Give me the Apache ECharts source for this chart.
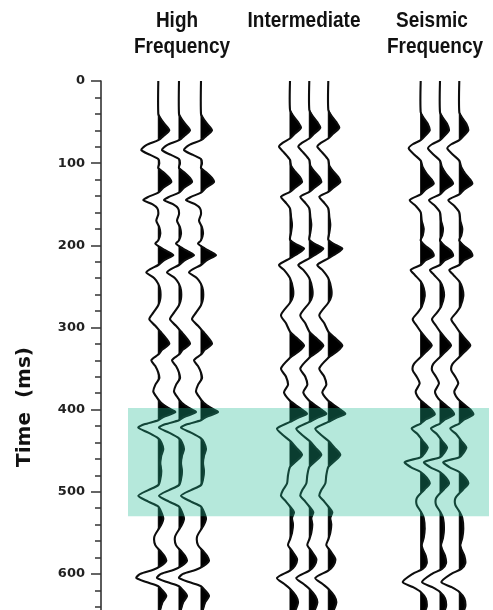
<!DOCTYPE html>
<html><head><meta charset="utf-8">
<script src="https://cdn.jsdelivr.net/npm/echarts/dist/echarts.min.js"></script>
<style>html,body{margin:0;padding:0;background:#fff}#c{width:493px;height:610px}</style>
</head><body><div id="c"></div>
<script>
// ---- data ----
const groupTitles = [['High','Frequency'],['Intermediate'],['Seismic','Frequency']];
const yTickValues = [0,100,200,300,400,500,600];
const band = [398, 530];            // highlighted time window (ms)
// trace baselines (x units, 1 unit = trace spacing ~20px)
const hfPositions   = [2.865, 3.9, 5.0];
const intPositions  = [9.45, 10.415, 11.365];
const seisPositions = [15.985, 16.95, 17.915];
// High frequency wavelet trace (time ms, amplitude)
const hfTimes = [0,40,45,52,60,66,72,78,84,90,95,100,106,112,118,123,130,136,141,145,150,155,162,170,178,186,194,198,204,208,212,218,224,229,233,240,247,255,265,273,282,290,298,305,312,320,327,333,340,347,355,362,370,378,386,392,398,403,409,413,418,422,428,435,440,448,456,465,475,485,492,498,505,512,518,525,533,540,546,555,565,572,578,584,590,595,600,605,610,615,620,627,635,648];
const hfAmps  = [0,0,2,6,11,6,0,-12,-17,-8,0,1,0,6,11,13,5,0,-10,-15,-6,-1,0,-2,1,2,0,-3,4,10,15,6,0,-8,-12,-4,0,2,2,0,-5,-9,-3,2,7,11,4,0,-7,-3,0,1,-3,-5,-1,3,10,17,5,0,-14,-20,-10,0,3,5,3,2,3,2,0,-10,-20,-10,0,3,5,3,0,-4,-3,2,6,8,3,-5,-18,-22,-12,0,4,8,4,1];
// Intermediate frequency trace
const intTimes = [0,35,42,50,57,64,70,75,80,87,96,103,110,117,123,130,135,141,147,155,165,175,185,193,198,204,210,216,224,230,240,253,262,270,285,295,305,312,322,330,337,350,360,370,379,388,394,400,405,410,415,423,430,438,446,455,463,470,480,490,498,505,512,518,525,532,540,550,558,565,572,582,590,596,605,612,618,627,635,648];
const intAmps  = [0,0,3,8,11,5,0,-7,-11,-6,0,1,5,10,12,5,0,-9,-5,0,1,2,1,0,5,14,8,0,-11,-6,0,3,3,0,-9,-4,0,6,14,8,0,-9,-4,-2,-6,-1,5,12,17,8,0,-13,-8,0,6,12,6,0,-2,-3,-7,-9,-4,0,4,2,3,2,0,-2,2,7,5,0,-13,-6,0,6,8,4];
// Seismic frequency trace
const seisTimes = [0,38,45,52,60,66,72,77,82,90,97,105,113,120,125,132,138,145,152,160,170,180,188,194,200,207,213,218,224,230,236,244,252,262,275,282,290,298,305,314,322,330,336,345,352,360,368,378,386,393,400,406,412,417,423,430,438,446,453,458,464,470,476,483,490,497,502,508,516,524,532,545,556,565,570,578,587,594,600,610,616,622,630,640,648];
const seisAmps  = [0,0,3,7,9,5,0,-8,-12,-6,0,2,6,11,13,5,0,-11,-5,0,1,3,2,0,4,11,13,5,0,-10,-6,0,3,4,1,-3,-8,-4,0,6,11,5,0,-7,-8,-4,-1,-5,-2,4,11,14,5,0,-9,-3,2,7,4,0,-16,-10,0,6,9,4,0,-4,-4,0,3,4,3,1,2,5,6,2,-8,-18,-8,0,5,6,3];

// ---- layout / styling ----
const groups = [
  {pos: hfPositions, t: hfTimes, a: hfAmps},
  {pos: intPositions, t: intTimes, a: intAmps},
  {pos: seisPositions, t: seisTimes, a: seisAmps}
];
const ampGain = 0.05;   // amplitude units -> x units
const bandX = [1.35, 19.4];

const traceData = [];
groups.forEach((g, gi) => g.pos.forEach((p, ti) => traceData.push([gi, ti])));

function renderTrace(params, api) {
  const g = groups[api.value(0)];
  const x0 = g.pos[api.value(1)];
  const T = g.t, A = g.a;
  const pts = T.map((t, i) => api.coord([x0 + A[i] * ampGain, t]));
  const fills = [];
  let cur = null;
  for (let i = 0; i < T.length; i++) {
    const a = A[i];
    if (a > 0) {
      if (!cur) {
        if (i === 0) cur = [api.coord([x0, T[0]])];
        else {
          const tc = T[i-1] + (T[i] - T[i-1]) * (0 - A[i-1]) / (a - A[i-1]);
          cur = [api.coord([x0, tc])];
        }
      }
      cur.push(pts[i]);
    } else if (cur) {
      const tc = T[i-1] + (T[i] - T[i-1]) * A[i-1] / (A[i-1] - a);
      cur.push(api.coord([x0, tc]));
      fills.push(cur); cur = null;
    }
  }
  if (cur) { cur.push(api.coord([x0, T[T.length-1]])); fills.push(cur); }
  const children = fills.map(f => ({type: 'polygon', shape: {points: f}, style: {fill: '#000', stroke: '#000', lineWidth: 1, lineJoin: 'round'}}));
  children.push({type: 'polyline', shape: {points: pts, smooth: 0.25}, style: {stroke: '#0d0d0d', lineWidth: 2.1, fill: null, lineJoin: 'round'}});
  return {type: 'group', children};
}

function renderBand(params, api) {
  const p1 = api.coord([bandX[0], band[0]]);
  const p2 = api.coord([bandX[1], band[1]]);
  return {type: 'rect', shape: {x: p1[0], y: p1[1], width: p2[0]-p1[0], height: p2[1]-p1[1]},
          style: {fill: 'rgba(30,185,145,0.33)'}};
}

const titleGraphics = [];
const titleCenters = [[177, 182], [304], [432, 435]];
groupTitles.forEach((lines, gi) => lines.forEach((txt, li) => {
  titleGraphics.push({type: 'text', x: titleCenters[gi][li], y: li === 0 ? 21 : 47, scaleY: 1.15,
    style: {text: txt, font: 'bold 19px "Liberation Sans", Arial, sans-serif', fill: '#111', align: 'center', verticalAlign: 'middle'}});
}));
titleGraphics.push({type: 'text', x: 25, y: 407, rotation: Math.PI / 2,
  style: {text: 'Time  (ms)', font: 'bold 20px "DejaVu Sans", Verdana, sans-serif', fill: '#111', align: 'center', verticalAlign: 'middle'}});

const chart = echarts.init(document.getElementById('c'), null, {renderer: 'canvas'});
chart.setOption({
  animation: false,
  backgroundColor: '#fff',
  grid: {left: 101, right: 0, top: 81, height: 575, containLabel: false, outerBoundsMode: 'none'},
  xAxis: {type: 'value', min: 0, max: 19.6, show: false},
  yAxis: {type: 'value', inverse: true, min: 0, max: 700, interval: 100,
    axisLine: {show: true, lineStyle: {color: '#333', width: 1.6}},
    axisTick: {show: true, length: 10, lineStyle: {color: '#333', width: 1.5}},
    minorTick: {show: true, splitNumber: 5, length: 6, lineStyle: {color: '#333', width: 1.5}},
    splitLine: {show: false},
    axisLabel: {margin: 16, color: '#222', fontFamily: '"DejaVu Sans", Verdana, sans-serif', fontWeight: 'bold', fontSize: 13,
      formatter: v => (yTickValues.indexOf(v) >= 0 ? String(v) : '')}
  },
  graphic: titleGraphics,
  series: [
    {type: 'custom', renderItem: renderTrace, data: traceData, clip: true, z: 2, silent: true},
    {type: 'custom', renderItem: renderBand, data: [[0]], clip: true, z: 5, silent: true}
  ]
});
</script></body></html>
